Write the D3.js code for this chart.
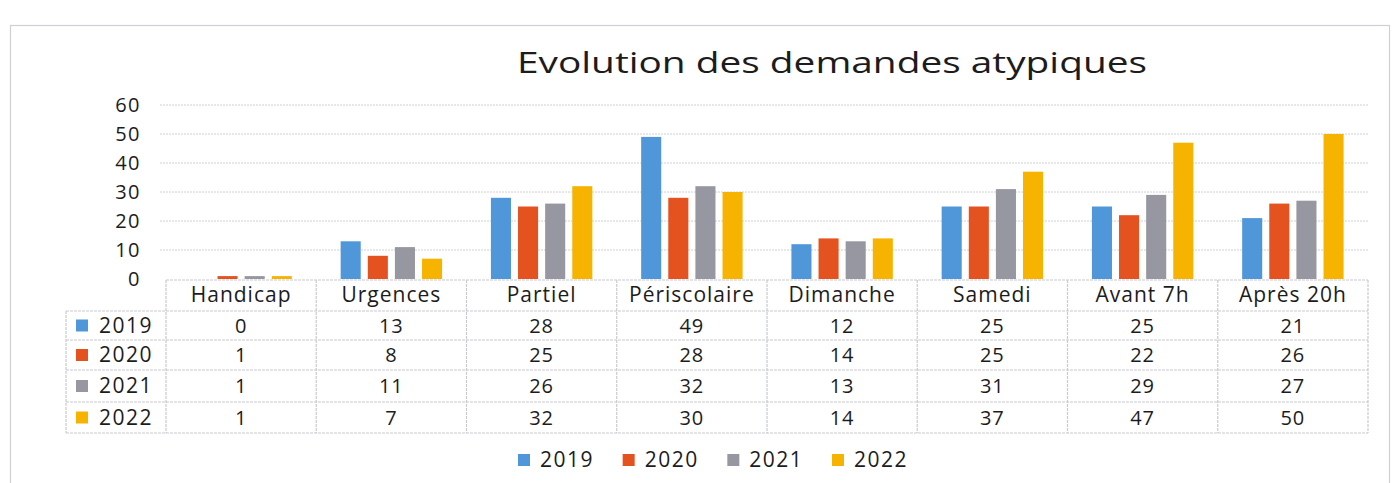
<!DOCTYPE html>
<html>
<head>
<meta charset="utf-8">
<script src="https://cdn.jsdelivr.net/npm/d3@7"></script>
<style>
  body { margin: 0; background: #fff; }
  svg text { font-family: "Open Sans", "Noto Sans", sans-serif; fill: #1c1c1c; font-weight: 500; }
</style>
</head>
<body>
<svg id="chart" width="1393" height="483"></svg>
<script>
var categories = ['Handicap', 'Urgences', 'Partiel', 'Périscolaire', 'Dimanche', 'Samedi', 'Avant 7h', 'Après 20h'];
var years = ['2019', '2020', '2021', '2022'];
var values2019 = [0, 13, 28, 49, 12, 25, 25, 21];
var values2020 = [1, 8, 25, 28, 14, 25, 22, 26];
var values2021 = [1, 11, 26, 32, 13, 31, 29, 27];
var values2022 = [1, 7, 32, 30, 14, 37, 47, 50];
var yTicks = [0, 10, 20, 30, 40, 50, 60];
var colors = ['#4f97d8', '#e3521f', '#9697a0', '#f6b300'];
var title = 'Evolution des demandes atypiques';

var series = [values2019, values2020, values2021, values2022];

var svg = d3.select('#chart');

// outer chart frame
svg.append('rect')
    .attr('x', 10.5).attr('y', 25.5)
    .attr('width', 1379).attr('height', 480)
    .attr('fill', 'none')
    .attr('stroke', '#cfd0d6')
    .attr('stroke-width', 1.2);

svg.append('text')
    .attr('x', 832).attr('y', 73)
    .attr('text-anchor', 'middle')
    .attr('font-size', 29)
    .attr('font-weight', 400)
    .attr('textLength', 630)
    .attr('lengthAdjust', 'spacingAndGlyphs')
    .text(title);

var x = d3.scaleBand().domain(categories).range([166, 1368]);
var xi = d3.scaleBand().domain(years).range([0, x.bandwidth()])
    .paddingInner(0.26).paddingOuter(0.9);
var y = d3.scaleLinear().domain([0, 60]).range([279, 105]);

// gridlines
svg.append('g').selectAll('line')
    .data(yTicks.filter(function(d) { return d > 0; }))
    .join('line')
    .attr('x1', 160).attr('x2', 1368)
    .attr('y1', function(d) { return y(d); })
    .attr('y2', function(d) { return y(d); })
    .attr('stroke', '#cdd0d8')
    .attr('stroke-dasharray', '2,1');

// y axis labels
svg.append('g').selectAll('text')
    .data(yTicks)
    .join('text')
    .attr('x', 141)
    .attr('y', function(d) { return y(d) + 7; })
    .attr('text-anchor', 'end')
    .attr('font-size', 20)
    .attr('letter-spacing', 1.5)
    .text(function(d) { return d; });

// bars
var groups = svg.append('g').selectAll('g')
    .data(series)
    .join('g')
    .attr('fill', function(d, i) { return colors[i]; });

groups.selectAll('rect')
    .data(function(vals, i) {
        return vals.map(function(v, j) { return {cat: categories[j], year: years[i], value: v}; });
    })
    .join('rect')
    .attr('x', function(d) { return x(d.cat) + xi(d.year); })
    .attr('width', xi.bandwidth())
    .attr('y', function(d) { return y(d.value); })
    .attr('height', function(d) { return y(0) - y(d.value); });

// data table
var rowTops = [280, 311, 340, 370, 402, 433];
var tbl = svg.append('g')
    .attr('stroke', '#c9cad2')
    .attr('stroke-width', 1.2)
    .attr('stroke-dasharray', '3,1');

tbl.append('line')
    .attr('x1', 166).attr('x2', 1368)
    .attr('y1', rowTops[0]).attr('y2', rowTops[0]);
tbl.selectAll('line.h')
    .data(rowTops.slice(1))
    .join('line')
    .attr('class', 'h')
    .attr('x1', 66).attr('x2', 1368)
    .attr('y1', function(d) { return d; })
    .attr('y2', function(d) { return d; });
tbl.selectAll('line.v')
    .data(categories.map(function(c) { return x(c); }).concat([x.range()[1]]))
    .join('line')
    .attr('class', 'v')
    .attr('x1', function(d) { return d; })
    .attr('x2', function(d) { return d; })
    .attr('y1', rowTops[0])
    .attr('y2', rowTops[5]);
tbl.append('line')
    .attr('x1', 66).attr('x2', 66)
    .attr('y1', rowTops[1]).attr('y2', rowTops[5]);

// header labels
svg.append('g').selectAll('text')
    .data(categories)
    .join('text')
    .attr('x', function(d) { return x(d) + x.bandwidth() / 2; })
    .attr('y', 302)
    .attr('text-anchor', 'middle')
    .attr('font-size', 21)
    .attr('letter-spacing', 1)
    .text(function(d) { return d; });

// table rows
series.forEach(function(vals, i) {
    var top = rowTops[i + 1];
    var mid = (top + rowTops[i + 2]) / 2;
    var row = svg.append('g');
    row.append('rect')
        .attr('x', 76).attr('y', mid - 6)
        .attr('width', 12).attr('height', 12)
        .attr('fill', colors[i]);
    row.append('text')
        .attr('x', 99).attr('y', mid + 7)
        .attr('font-size', 21)
        .attr('letter-spacing', 1.5)
        .text(years[i]);
    row.selectAll('text.v')
        .data(vals)
        .join('text')
        .attr('class', 'v')
        .attr('x', function(d, j) { return x(categories[j]) + x.bandwidth() / 2; })
        .attr('y', mid + 7)
        .attr('text-anchor', 'middle')
        .attr('font-size', 20)
        .attr('letter-spacing', 1)
        .text(function(d) { return d; });
});

// legend
var lx = d3.scaleLinear().domain([0, 3]).range([518, 832]);
var legend = svg.append('g').selectAll('g')
    .data(years)
    .join('g')
    .attr('transform', function(d, i) { return 'translate(' + lx(i) + ',460)'; });
legend.append('rect')
    .attr('x', 0).attr('y', -6)
    .attr('width', 12).attr('height', 12)
    .attr('fill', function(d, i) { return colors[i]; });
legend.append('text')
    .attr('x', 22).attr('y', 7)
    .attr('font-size', 21)
    .attr('letter-spacing', 1.5)
    .text(function(d) { return d; });
</script>
</body>
</html>
